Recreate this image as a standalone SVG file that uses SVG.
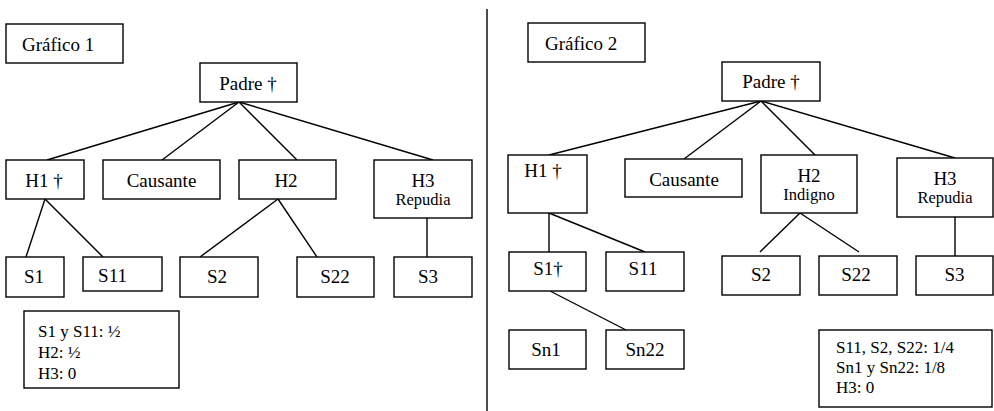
<svg xmlns="http://www.w3.org/2000/svg" width="994" height="411" viewBox="0 0 994 411" font-family="'Liberation Serif', 'Times New Roman', 'DejaVu Serif', serif">
<style>
rect{fill:#fff;stroke:#000;stroke-width:1.4}
line{stroke:#000;stroke-width:1.4}
text{font-family:'Liberation Serif','Times New Roman','DejaVu Serif',serif;font-size:19px;fill:#000;text-anchor:middle}
.sub{font-size:16.5px}
.leg{font-size:17px;text-anchor:start}
.tl{text-anchor:start}
</style>
<rect x="0" y="0" width="994" height="411" style="fill:#fff;stroke:none"/>
<g id="connectors">
<line x1="487" y1="9" x2="487" y2="411"/>
<line x1="239" y1="102" x2="47" y2="160"/>
<line x1="239" y1="102" x2="162" y2="160"/>
<line x1="239" y1="102" x2="297" y2="160"/>
<line x1="239" y1="102" x2="433" y2="160"/>
<line x1="45" y1="199" x2="26" y2="257"/>
<line x1="45" y1="199" x2="103" y2="257"/>
<line x1="278" y1="199" x2="200" y2="257"/>
<line x1="278" y1="199" x2="317" y2="257"/>
<line x1="427" y1="218" x2="427" y2="257"/>
<line x1="761" y1="101" x2="549" y2="155"/>
<line x1="761" y1="101" x2="684" y2="159"/>
<line x1="761" y1="101" x2="819" y2="159"/>
<line x1="761" y1="101" x2="955" y2="158"/>
<line x1="549" y1="213" x2="549" y2="252"/>
<line x1="549" y1="213" x2="645" y2="252"/>
<line x1="550" y1="291" x2="626" y2="330"/>
<line x1="800" y1="213" x2="760" y2="252"/>
<line x1="800" y1="213" x2="859" y2="252"/>
<line x1="955" y1="217" x2="955" y2="256"/>
</g>
<g id="grafico1"><rect x="6" y="24" width="117" height="39"/><text class="tl" x="22" y="51">Gráfico 1</text></g>
<g id="padre1"><rect x="200" y="63" width="97" height="39"/><text x="248" y="90">Padre †</text></g>
<g id="h1_1"><rect x="6" y="160" width="78" height="39"/><text x="44" y="187">H1 †</text></g>
<g id="causante1"><rect x="103" y="160" width="117" height="39"/><text x="161.5" y="187">Causante</text></g>
<g id="h2_1"><rect x="239" y="160" width="97" height="39"/><text x="286" y="187">H2</text></g>
<g id="h3_1"><rect x="374" y="160" width="98" height="58"/><text x="423" y="187">H3</text><text class="sub" x="423" y="205">Repudia</text></g>
<g id="s1_1"><rect x="6" y="257" width="58" height="40"/><text x="34" y="283">S1</text></g>
<g id="s11_1"><rect x="83" y="257" width="79" height="34"/><text x="112.5" y="282">S11</text></g>
<g id="s2_1"><rect x="180" y="257" width="78" height="40"/><text x="217" y="283">S2</text></g>
<g id="s22_1"><rect x="297" y="257" width="77" height="40"/><text x="335" y="283">S22</text></g>
<g id="s3_1"><rect x="394" y="257" width="78" height="40"/><text x="428" y="283">S3</text></g>
<g id="legend1"><rect x="24" y="311" width="155" height="77"/>
<text class="leg" x="38" y="337">S1 y S11: ½</text>
<text class="leg" x="38" y="358">H2: ½</text>
<text class="leg" x="38" y="379">H3: 0</text></g>
<g id="grafico2"><rect x="528" y="23" width="117" height="39"/><text class="tl" x="545" y="50">Gráfico 2</text></g>
<g id="padre2"><rect x="722" y="62" width="98" height="39"/><text x="771" y="88">Padre †</text></g>
<g id="h1_2"><rect x="508" y="155" width="79" height="58"/><text x="543" y="177">H1 †</text></g>
<g id="causante2"><rect x="625" y="159" width="117" height="38"/><text x="684" y="186">Causante</text></g>
<g id="h2_2"><rect x="761" y="155" width="96" height="58"/><text x="809" y="182">H2</text><text class="sub" x="809" y="200">Indigno</text></g>
<g id="h3_2"><rect x="897" y="158" width="96" height="59"/><text x="945" y="185">H3</text><text class="sub" x="945" y="203">Repudia</text></g>
<g id="s1_2"><rect x="509" y="252" width="77" height="39"/><text x="548" y="275">S1†</text></g>
<g id="s11_2"><rect x="606" y="252" width="78" height="39"/><text x="643" y="275">S11</text></g>
<g id="sn1_2"><rect x="509" y="330" width="77" height="39"/><text x="546" y="356">Sn1</text></g>
<g id="sn22_2"><rect x="606" y="330" width="78" height="39"/><text x="645" y="356">Sn22</text></g>
<g id="s2_2"><rect x="722" y="256" width="78" height="39"/><text x="761" y="281">S2</text></g>
<g id="s22_2"><rect x="819" y="256" width="78" height="39"/><text x="856" y="281">S22</text></g>
<g id="s3_2"><rect x="916" y="256" width="77" height="39"/><text x="954.5" y="281">S3</text></g>
<g id="legend2"><rect x="819" y="330" width="173" height="77"/>
<text class="leg" x="836" y="353">S11, S2, S22: 1/4</text>
<text class="leg" x="836" y="373">Sn1 y Sn22: 1/8</text>
<text class="leg" x="836" y="393">H3: 0</text></g>
</svg>
